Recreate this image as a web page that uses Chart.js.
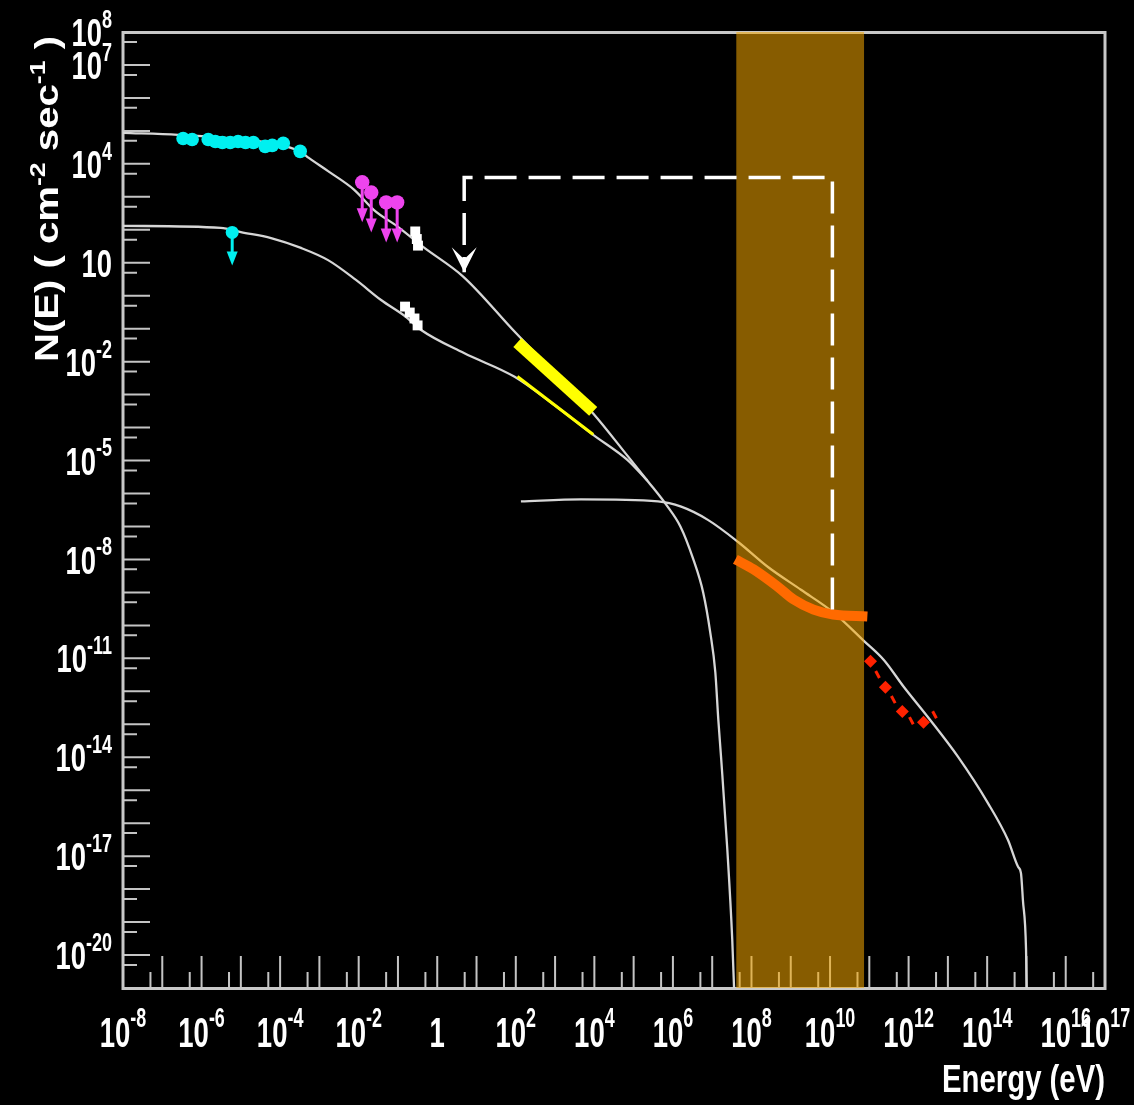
<!DOCTYPE html>
<html>
<head>
<meta charset="utf-8">
<script src="https://cdn.jsdelivr.net/npm/chart.js@4/dist/chart.umd.min.js"></script>
<style>
  html, body { margin: 0; padding: 0; background: #000; }
  #wrap { width: 1134px; height: 1105px; }
</style>
</head>
<body>
<div id="wrap"><canvas id="c" width="1134" height="1105"></canvas></div>
<script>
// All values are log10: energy in eV, flux N(E) in cm^-2 s^-1.

// Synchrotron model, high state
const syncHighLogE = [-8.0, -6.6, -5.0, -4.23, -3.47, -3.27, -2.78, -2.12, -1.61, -1.0, -0.36, 0.66, 1.985, 3.0, 3.97, 4.84, 5.35, 5.86, 6.19, 6.52, 6.77, 6.95, 7.08, 7.155, 7.23, 7.385, 7.51, 7.59];
const syncHighLogN = [4.94, 4.88, 4.75, 4.63, 4.36, 4.18, 3.78, 3.22, 2.60, 2.09, 1.48, 0.58, -1.11, -2.36, -3.57, -4.85, -5.61, -6.39, -7.00, -8.00, -9.00, -10.21, -11.43, -12.85, -14.07, -16.80, -19.52, -22.1];

// Synchrotron model, low state
const syncLowLogE = [-8.0, -5.51, -5.0, -4.23, -3.47, -2.78, -2.07, -1.43, -0.80, -0.41, 0.68, 1.97, 3.0, 3.97, 4.84, 5.35];
const syncLowLogN = [2.12, 2.06, 1.93, 1.75, 1.45, 1.08, 0.48, -0.13, -0.64, -1.04, -1.74, -2.46, -3.33, -4.22, -4.98, -5.61];

// Inverse Compton model
const icLogE = [2.13, 3.66, 5.62, 6.21, 6.89, 7.66, 8.42, 9.26, 10.10, 10.86, 11.37, 11.88, 12.49, 13.26, 14.02, 14.53, 14.79, 14.86, 14.91, 14.99, 15.02];
const icLogN = [-6.24, -6.18, -6.24, -6.40, -6.80, -7.47, -8.23, -8.92, -9.62, -10.47, -11.05, -11.87, -12.78, -13.99, -15.39, -16.51, -17.33, -17.51, -18.33, -19.84, -22.0];

// Radio / mm measurements (high state)
const radioLogE = [-6.47, -6.24, -5.83, -5.65, -5.47, -5.27, -5.07, -4.88, -4.68, -4.38, -4.20, -3.92, -3.49];
const radioLogN = [4.77, 4.74, 4.74, 4.68, 4.65, 4.65, 4.68, 4.65, 4.65, 4.53, 4.56, 4.62, 4.38];

// Radio upper limit (low state)
const radioLimLogE = [-5.22];
const radioLimLogN = [1.92];

// Infrared upper limits
const irLimLogE = [-1.91, -1.68, -1.30, -1.02];
const irLimLogN = [3.44, 3.13, 2.83, 2.83];

// Optical points, high and low state
const optHighLogE = [-0.56, -0.52, -0.49];
const optHighLogN = [1.95, 1.72, 1.52];
const optLowLogE = [-0.82, -0.70, -0.58, -0.50];
const optLowLogN = [-0.33, -0.51, -0.69, -0.90];

// X-ray spectra, high and low state
const xrayHighLogE = [2.04, 3.97];
const xrayHighLogN = [-1.42, -3.51];
const xrayLowLogE = [2.04, 3.97];
const xrayLowLogN = [-2.45, -4.21];

// GeV spectrum inside the band
const gevLogE = [7.59, 8.05, 8.66, 9.07, 9.58, 10.08, 10.95];
const gevLogN = [-8.00, -8.30, -8.82, -9.21, -9.52, -9.67, -9.73];

// TeV measurements and their error marks
const tevLogE = [11.03, 11.41, 11.84, 12.38];
const tevLogN = [-11.09, -11.88, -12.61, -12.94];
const tevErrLogE = [11.21, 11.61, 12.07, 12.66];
const tevErrLogN = [-11.49, -12.25, -12.89, -12.71];

// Energy band of the gamma-ray telescope
const bandLogE = [7.61, 10.87];

// Dashed guide from the GeV band to the synchrotron peak
const guideLogE = [10.06, 10.06, 0.686, 0.686];
const guideLogN = [-9.52, 3.59, 3.59, 0.71];

// Axis labels (exponents)
const xLabelExp = [-8, -6, -4, -2, 0, 2, 4, 6, 8, 10, 12, 14, 16, 17];
const yLabelExp = [8, 7, 4, 1, -2, -5, -8, -11, -14, -17, -20];
const xTitle = 'Energy (eV)';

const pts = (le, ln) => le.map((v, i) => ({ x: Math.pow(10, v), y: Math.pow(10, ln[i]) }));

const FONT = '"Liberation Sans", Arial, Helvetica, sans-serif';
const GREY = '#d6d6d6';

const curve = (data, order) => ({
  data, order, borderColor: GREY, borderWidth: 2.3, pointRadius: 0,
  cubicInterpolationMode: 'monotone', fill: false
});
const marks = (data, color, style, r, order, extra) => Object.assign({
  data, order, showLine: false, pointStyle: style, pointRadius: r,
  backgroundColor: color, borderColor: color, borderWidth: 0
}, extra || {});

const datasets = [
  curve(pts(syncHighLogE, syncHighLogN), 20),
  curve(pts(syncLowLogE, syncLowLogN), 20),
  curve(pts(icLogE, icLogN), 20),
  { data: pts(xrayHighLogE, xrayHighLogN), order: 15, borderColor: '#ffff00', borderWidth: 12,
    borderCapStyle: 'butt', pointRadius: 0, fill: false },
  { data: pts(xrayLowLogE, xrayLowLogN), order: 15, borderColor: '#ffff00', borderWidth: 3,
    borderCapStyle: 'butt', pointRadius: 0, fill: false },
  marks(pts(radioLogE, radioLogN), '#00f0f0', 'circle', 6.8, 14),
  marks(pts(radioLimLogE, radioLimLogN), '#00f0f0', 'circle', 6.5, 14, { limitArrow: 33 }),
  marks(pts(irLimLogE, irLimLogN), '#ee44ee', 'circle', 7.2, 14, { limitArrow: 40 }),
  marks(pts(optHighLogE, optHighLogN), '#ffffff', 'rect', 7, 14),
  marks(pts(optLowLogE, optLowLogN), '#ffffff', 'rect', 7, 14),
  // gamma-ray telescope band, drawn over the curves
  { data: pts(bandLogE, [8, 8]), order: 10, borderWidth: 0, pointRadius: 0,
    fill: 'start', backgroundColor: 'rgba(246,168,0,0.55)' },
  { data: pts(gevLogE, gevLogN), order: 5, borderColor: '#ff6a00', borderWidth: 10,
    borderCapStyle: 'butt', pointRadius: 0, cubicInterpolationMode: 'monotone', fill: false },
  { data: pts(guideLogE, guideLogN), order: 4, borderColor: '#ffffff', borderWidth: 3.5,
    borderDash: [32, 12], borderCapStyle: 'butt', pointRadius: 0, fill: false, arrowHead: true },
  marks(pts(tevLogE, tevLogN), '#ff2200', 'rectRot', 6.5, 3),
  marks(pts(tevErrLogE, tevErrLogN), '#ff2200', 'line', 4, 3,
    { borderWidth: 3, rotation: 62 })
];

function powLabel(ctx, exp, x, yMid, align, bSize, sSize, sx) {
  const baseTxt = exp === 0 ? '1' : '10';
  const supTxt = (exp === 0 || exp === 1) ? '' : String(exp);
  ctx.font = 'bold ' + bSize + 'px ' + FONT;
  const wb = ctx.measureText(baseTxt).width * sx;
  ctx.font = 'bold ' + sSize + 'px ' + FONT;
  const ws = supTxt ? ctx.measureText(supTxt).width * sx : 0;
  const total = wb + ws;
  const left = align === 'right' ? x - total : x - total / 2;
  const cap = bSize * 0.716;
  const baseLine = yMid + cap / 2;
  const supLine = yMid - cap / 2 + cap * 0.33;
  ctx.save();
  ctx.translate(left, baseLine); ctx.scale(sx, 1);
  ctx.font = 'bold ' + bSize + 'px ' + FONT;
  ctx.fillText(baseTxt, 0, 0);
  ctx.restore();
  if (supTxt) {
    ctx.save();
    ctx.translate(left + wb, supLine); ctx.scale(sx, 1);
    ctx.font = 'bold ' + sSize + 'px ' + FONT;
    ctx.fillText(supTxt, 0, 0);
    ctx.restore();
  }
}

const framePlugin = {
  id: 'frame',
  beforeDraw(chart) {
    const ctx = chart.ctx;
    ctx.save(); ctx.fillStyle = '#000'; ctx.fillRect(0, 0, chart.width, chart.height); ctx.restore();
  },
  beforeDatasetsDraw(chart) {
    const { ctx, chartArea: a, scales: { x, y } } = chart;
    ctx.save();
    ctx.strokeStyle = '#c4c4c4';
    ctx.lineWidth = 2;
    ctx.beginPath();
    for (let k = -21; k <= 8; k++) {
      const py = y.getPixelForValue(Math.pow(10, k));
      ctx.moveTo(a.left, py); ctx.lineTo(a.left + 27, py);
      if (k < 8) {
        const ps = y.getPixelForValue(5 * Math.pow(10, k));
        ctx.moveTo(a.left, ps); ctx.lineTo(a.left + 14, ps);
      }
    }
    for (let k = -8; k <= 17; k++) {
      const px = x.getPixelForValue(Math.pow(10, k));
      ctx.moveTo(px, a.bottom); ctx.lineTo(px, a.bottom - 32);
      if (k < 17) {
        const ps = x.getPixelForValue(5 * Math.pow(10, k));
        ctx.moveTo(ps, a.bottom); ctx.lineTo(ps, a.bottom - 16);
      }
    }
    ctx.stroke();
    ctx.lineWidth = 3;
    ctx.strokeStyle = '#c8c8c8';
    ctx.strokeRect(a.left, a.top + 0.5, a.right - a.left, a.bottom - a.top);
    ctx.restore();
  },
  afterDatasetDraw(chart, args) {
    const ds = chart.data.datasets[args.index];
    const ctx = chart.ctx;
    if (ds.limitArrow) {
      const L = ds.limitArrow;
      ctx.save();
      ctx.strokeStyle = ds.backgroundColor; ctx.fillStyle = ds.backgroundColor;
      ctx.lineWidth = 3;
      args.meta.data.forEach(p => {
        ctx.beginPath(); ctx.moveTo(p.x, p.y); ctx.lineTo(p.x, p.y + L - 8); ctx.stroke();
        ctx.beginPath();
        ctx.moveTo(p.x - 5.5, p.y + L - 14); ctx.lineTo(p.x + 5.5, p.y + L - 14);
        ctx.lineTo(p.x, p.y + L); ctx.closePath(); ctx.fill();
      });
      ctx.restore();
    }
    if (ds.arrowHead) {
      const d = args.meta.data;
      const tip = d[d.length - 1];
      ctx.save();
      ctx.fillStyle = ds.borderColor;
      ctx.beginPath();
      ctx.moveTo(tip.x, tip.y);
      ctx.lineTo(tip.x - 12.5, tip.y - 25);
      ctx.lineTo(tip.x, tip.y - 13);
      ctx.lineTo(tip.x + 12.5, tip.y - 25);
      ctx.closePath(); ctx.fill();
      ctx.restore();
    }
  },
  afterDraw(chart) {
    const { ctx, chartArea: a, scales: { x, y } } = chart;
    ctx.save();
    ctx.fillStyle = '#ffffff';
    ctx.textAlign = 'left'; ctx.textBaseline = 'alphabetic';
    xLabelExp.forEach(e => {
      powLabel(ctx, e, x.getPixelForValue(Math.pow(10, e)), 1032, 'center', 43, 28, 0.64);
    });
    yLabelExp.forEach(e => {
      powLabel(ctx, e, 112, y.getPixelForValue(Math.pow(10, e)) + 0.5, 'right', 38, 25, 0.72);
    });
    // x-axis title, right-aligned to the axis end
    ctx.font = 'bold 38px ' + FONT;
    const wt = ctx.measureText(xTitle).width;
    ctx.save();
    ctx.translate(a.right - 163, 1092); ctx.scale(163 / wt, 1);
    ctx.fillText(xTitle, 0, 0);
    ctx.restore();
    // y-axis title, rotated, ending at the top of the axis
    const parts = [['N(E) ( cm', false], ['-2', true], [' sec', false], ['-1', true], [' )', false]];
    const F = 33, Fs = 22;
    let total = 0;
    const widths = parts.map(([t, sup]) => {
      ctx.font = 'bold ' + (sup ? Fs : F) + 'px ' + FONT;
      const w = ctx.measureText(t).width; total += w; return w;
    });
    const k = 326 / total;
    ctx.save();
    ctx.translate(58, 36); ctx.rotate(-Math.PI / 2); ctx.scale(k, 1);
    let pos = -total;
    parts.forEach(([t, sup], i) => {
      ctx.font = 'bold ' + (sup ? Fs : F) + 'px ' + FONT;
      ctx.fillText(t, pos, sup ? -13 : 0);
      pos += widths[i];
    });
    ctx.restore();
    ctx.restore();
  }
};

new Chart(document.getElementById('c'), {
  type: 'line',
  data: { datasets },
  options: {
    responsive: false,
    animation: false,
    devicePixelRatio: 1,
    events: [],
    layout: { padding: { left: 123, top: 32, right: 29, bottom: 117 } },
    plugins: { legend: { display: false }, tooltip: { enabled: false } },
    scales: {
      x: { type: 'logarithmic', min: 1e-8, max: 1e17, display: false },
      y: { type: 'logarithmic', min: 1e-21, max: 1e8, display: false }
    }
  },
  plugins: [framePlugin]
});
</script>
</body>
</html>
